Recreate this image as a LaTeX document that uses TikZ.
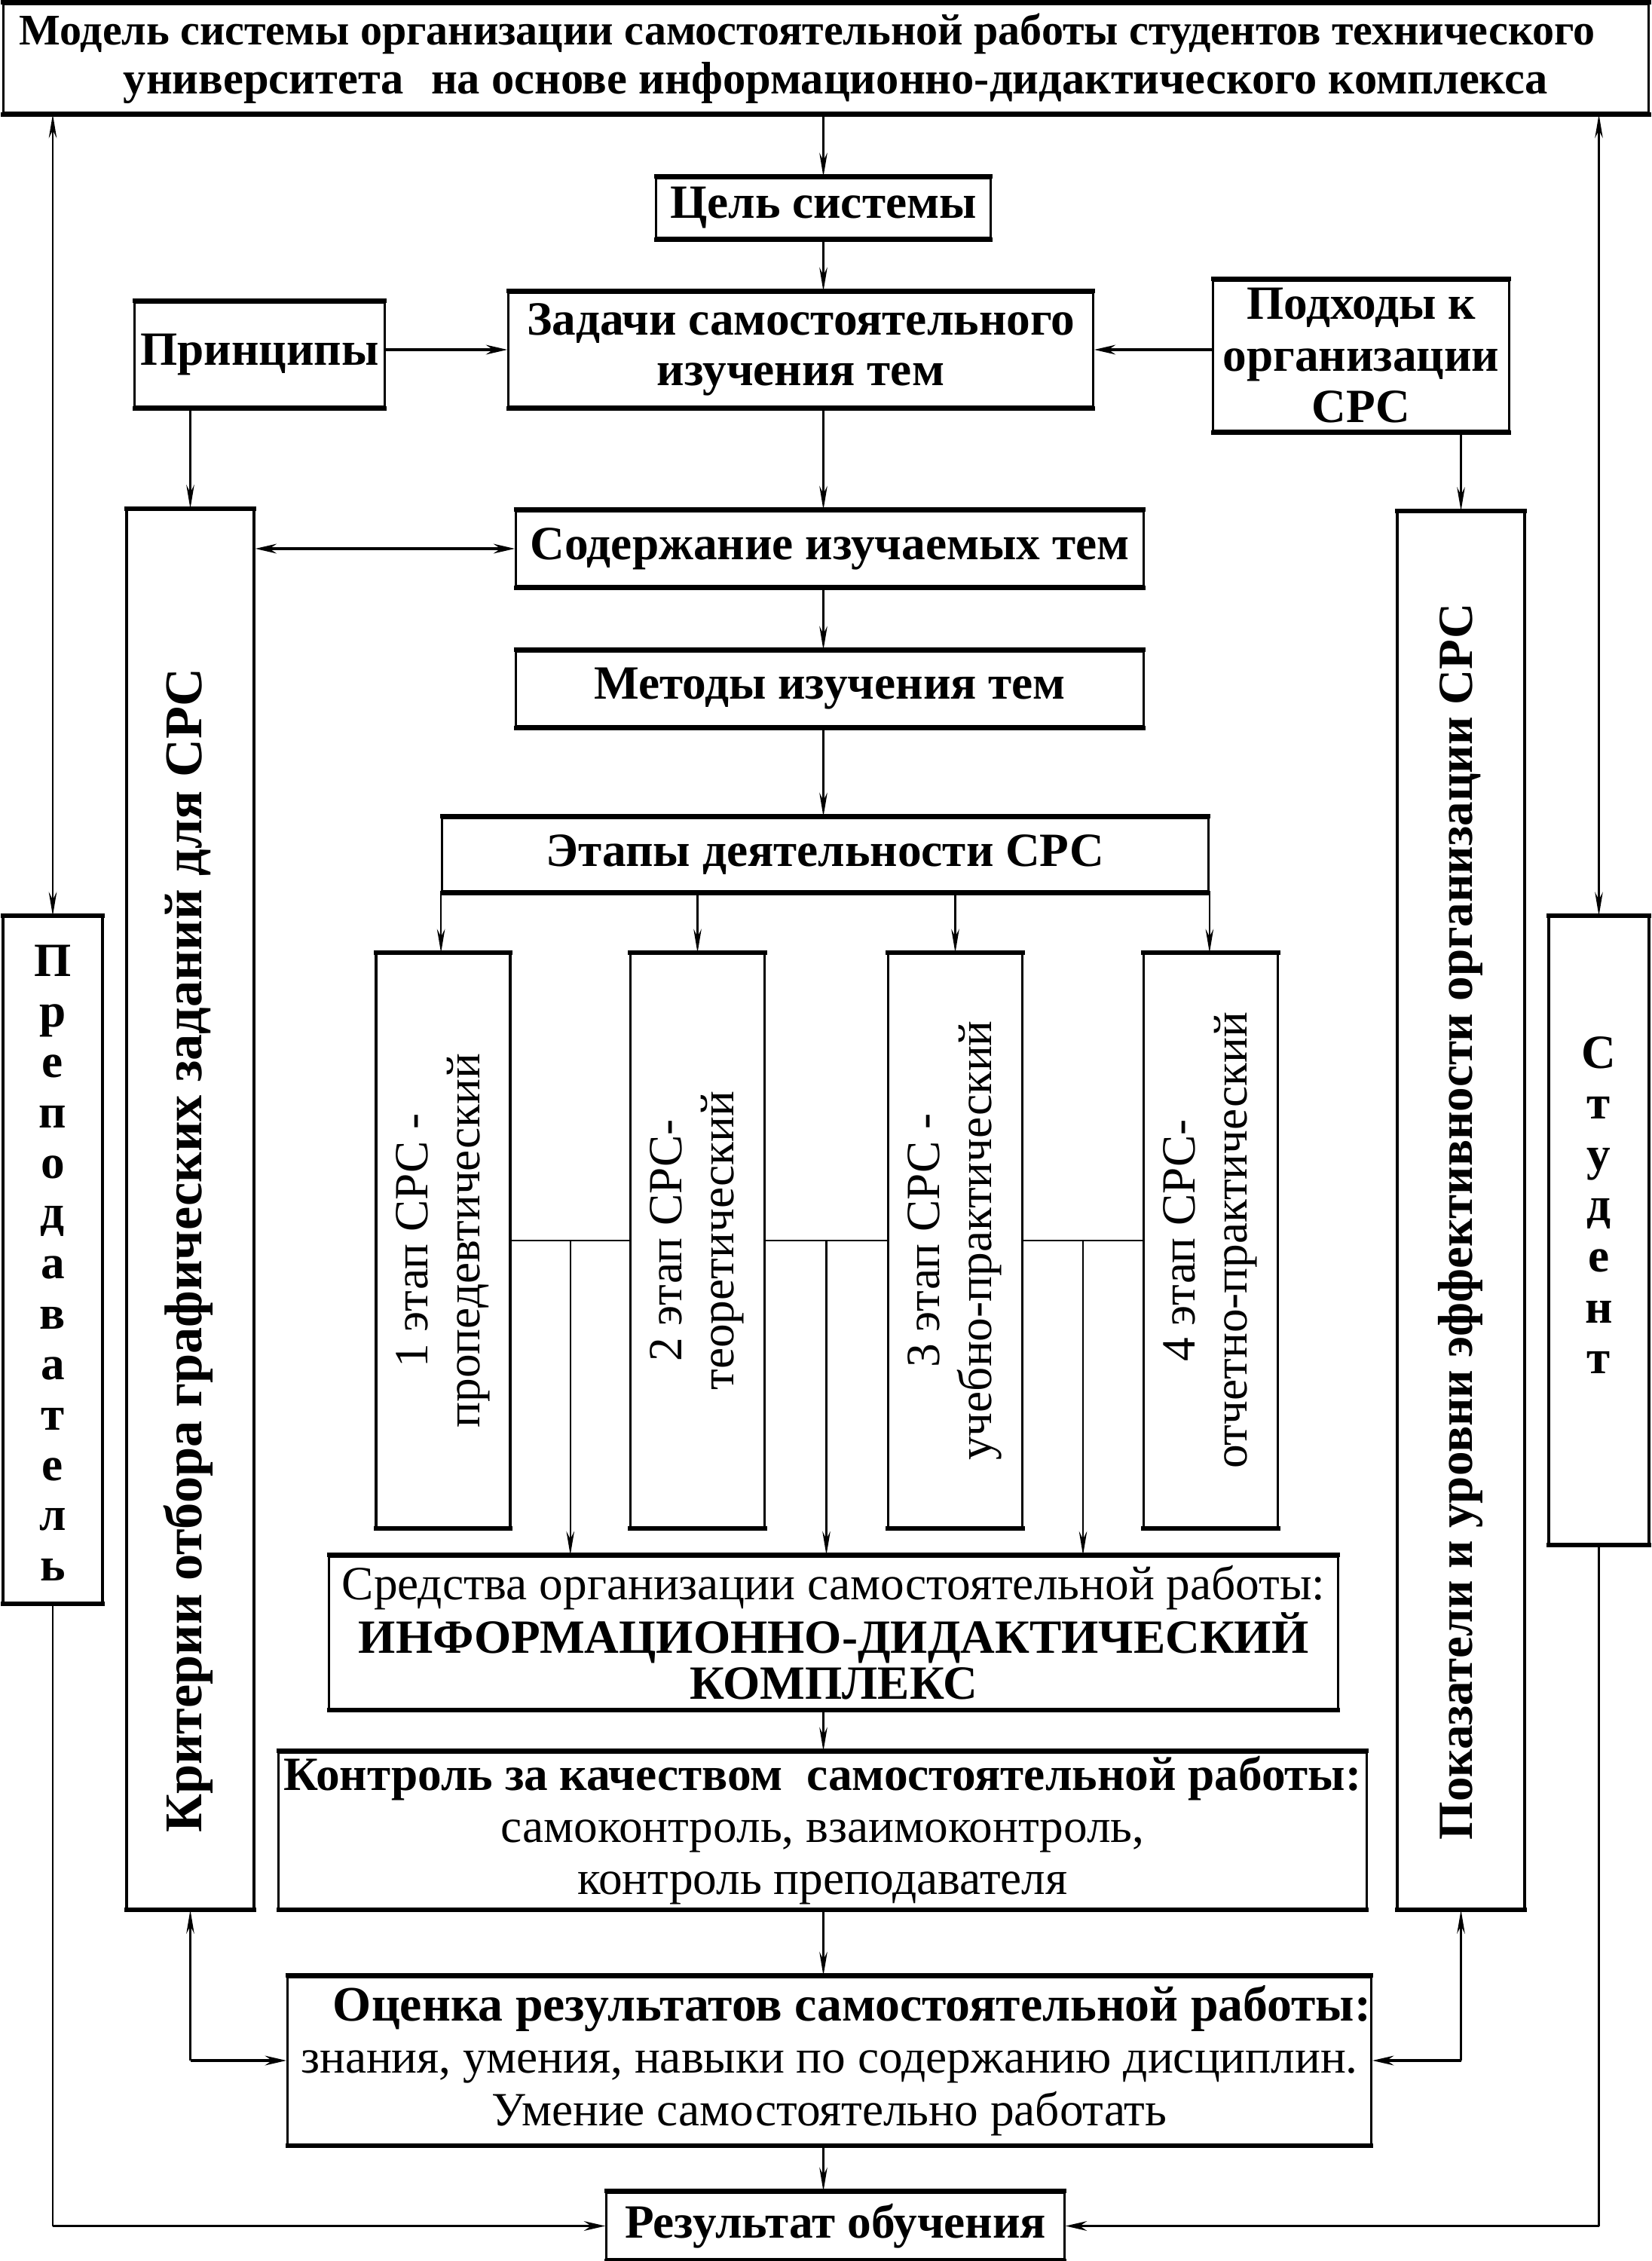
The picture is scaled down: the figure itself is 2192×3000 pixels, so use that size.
\documentclass[tikz,border=0pt]{standalone}
\usepackage{fontspec}
\setmainfont{Liberation Serif}
\usetikzlibrary{arrows.meta,calc}
\newcommand\fsz[2]{\fontsize{#1}{#2}\selectfont}
\tikzset{
  box/.style={draw, line width=0.9pt, inner sep=0pt, align=center,
    append after command={
      (\tikzlastnode.north west) edge[line width=1.7pt, shorten <=-0.4pt, shorten >=-0.4pt] (\tikzlastnode.north east)
      (\tikzlastnode.south west) edge[line width=1.7pt, shorten <=-0.4pt, shorten >=-0.4pt] (\tikzlastnode.south east)}},
  lbl/.style={inner sep=0pt, align=center},
  vline/.style={line width=0.6pt},
  hline/.style={line width=1.1pt},
  tipv/.tip={Stealth[length=9pt,width=3pt]},
  tiph/.tip={Stealth[length=8pt,width=3.6pt]},
  varr/.style={vline, -tipv},
  harr/.style={hline, -tiph},
  hbarr/.style={hline, tiph-tiph},
  vbarr/.style={vline, tipv-tipv},
  bt/.style={font=\fsz{18}{19}\bfseries},
  stg/.style={box, minimum width=1.78cm, minimum height=7.60cm, font=\fsz{18}{19.6}},
}
\begin{document}
\begin{tikzpicture}[x=0.01cm, y=-0.01cm]
\useasboundingbox (0,0) rectangle (2192,3000);
% boxes
\node[box, minimum width=21.82cm, minimum height=1.45cm, font=\fsz{16.5}{18.5}\bfseries] (title) at (1096,77.5)
  {Модель системы организации самостоятельной работы студентов технического\hspace*{0.5cm}\\
   \hspace*{0.26cm}{\fontsize{17.2}{18.5}\selectfont университета\hspace{0.6em}на основе информационно-дидактического комплекса}};
\node[box, bt, minimum width=4.43cm, minimum height=0.80cm] (cel) at (1092.5,276) {Цель системы};
\node[box, bt, minimum width=7.75cm, minimum height=1.52cm] (zad) at (1062.5,464) {Задачи самостоятельного\\изучения тем};
\node[box, bt, minimum width=3.31cm, minimum height=1.39cm] (princ) at (344.5,470.5) {Принципы};
\node[box, bt, minimum width=3.92cm, minimum height=2.00cm, font=\fsz{18}{19.5}\bfseries] (podh) at (1806,472) {Подходы к\\организации\\СРС};
\node[box, bt, minimum width=8.32cm, minimum height=1.00cm] (soder) at (1101,728) {Содержание изучаемых тем};
\node[box, bt, minimum width=8.32cm, minimum height=1.00cm] (metody) at (1101,914) {Методы изучения тем};
\node[box, bt, minimum width=10.16cm, minimum height=0.98cm] (etapy) at (1095,1134) {Этапы деятельности СРС};
% stage boxes
\node[stg] (s1) at (588,1646)
  {\rotatebox{90}{\begin{tabular}{@{}c@{}}1 этап СРС -\\пропедевтический\end{tabular}}};
\node[stg] (s2) at (925.5,1646)
  {\rotatebox{90}{\begin{tabular}{@{}c@{}}2 этап СРС-\\теоретический\end{tabular}}};
\node[stg] (s3) at (1267.5,1646)
  {\rotatebox{90}{\begin{tabular}{@{}c@{}}3 этап СРС -\\учебно-практический\end{tabular}}};
\node[stg] (s4) at (1606.5,1646)
  {\rotatebox{90}{\begin{tabular}{@{}c@{}}4 этап СРС-\\отчетно-практический\end{tabular}}};
\node[box, minimum width=13.38cm, minimum height=2.02cm, font=\fsz{18}{17.2}] (sred) at (1106,2166)
  {Средства организации самостоятельной работы:\\\textbf{ИНФОРМАЦИОННО-ДИДАКТИЧЕСКИЙ}\\\textbf{КОМПЛЕКС}};
\node[box, minimum width=14.43cm, minimum height=2.07cm, font=\fsz{18}{19.5}] (kontr) at (1091.5,2428.5)
  {\textbf{Контроль за качеством \ самостоятельной работы:}\\самоконтроль, взаимоконтроль,\\контроль преподавателя};
\node[box, minimum width=14.37cm, minimum height=2.22cm, font=\fsz{18}{19.8}] (ocen) at (1100.5,2734)
  {\hspace*{0.6cm}\textbf{\fontsize{18.7}{19.8}\selectfont Оценка результатов самостоятельной работы:}\\знания, умения, навыки по содержанию дисциплин.\\Умение самостоятельно работать};
\node[box, bt, minimum width=6.07cm, minimum height=0.89cm] (res) at (1108.5,2953.5) {Результат обучения};
% side boxes
\node[box, minimum width=1.69cm, minimum height=18.55cm] (krit) at (252.5,1604.5) {};
\node[lbl, rotate=90, font=\fsz{20}{21}\bfseries] (kritt) at (250,1659) {Критерии отбора графических заданий для СРС};
\node[box, minimum width=1.69cm, minimum height=18.52cm] (pokaz) at (1938.5,1606) {};
\node[lbl, rotate=90, font=\fsz{18.5}{20}\bfseries] (pokazt) at (1938,1621) {Показатели и уровни эффективности организации СРС};
\node[box, minimum width=1.32cm, minimum height=9.09cm] (prep) at (70,1671.5) {};
\node[lbl, font=\fsz{18}{19}\bfseries] (prept) at (70,1676) {П\\р\\е\\п\\о\\д\\а\\в\\а\\т\\е\\л\\ь};
\node[box, minimum width=1.33cm, minimum height=8.31cm] (stud) at (2121.5,1632.5) {};
\node[lbl, font=\fsz{18}{19.2}\bfseries] (studt) at (2121.5,1599) {С\\т\\у\\д\\е\\н\\т};
% main vertical chain
\draw[varr] (cel.north |- title.south) -- (cel.north);
\draw[varr] (cel.south) -- (cel.south |- zad.north);
\draw[varr] (cel.south |- zad.south) -- (cel.south |- soder.north);
\draw[varr] (cel.south |- soder.south) -- (cel.south |- metody.north);
\draw[varr] (cel.south |- metody.south) -- (cel.south |- etapy.north);
\draw[harr] (zad.west -| princ.east) -- (zad.west);
\draw[harr] (zad.east -| podh.west) -- (zad.east);
\draw[varr] (krit.north |- princ.south) -- (krit.north);
\draw[varr] (pokaz.north |- podh.south) -- (pokaz.north);
\draw[hbarr] (soder.west -| krit.east) -- (soder.west);
% stages
\draw[varr] (etapy.south west) -- (etapy.south west |- s1.north);
\draw[varr] (s2.north |- etapy.south) -- (s2.north);
\draw[varr] (s3.north |- etapy.south) -- (s3.north);
\draw[varr] (etapy.south east) -- (etapy.south east |- s4.north);
\draw[vline] (s1.east) -- (s2.west);
\draw[vline] (s2.east) -- (s3.west);
\draw[vline] (s3.east) -- (s4.west);
\coordinate (m12) at ($(s1.east)!0.5!(s2.west)$);
\coordinate (m23) at ($(s2.east)!0.5!(s3.west)$);
\coordinate (m34) at ($(s3.east)!0.5!(s4.west)$);
\draw[varr] (m12) -- (m12 |- sred.north);
\draw[varr] (m23) -- (m23 |- sred.north);
\draw[varr] (m34) -- (m34 |- sred.north);
\draw[varr] (cel.south |- sred.south) -- (cel.south |- kontr.north);
\draw[varr] (cel.south |- kontr.south) -- (cel.south |- ocen.north);
\draw[varr] (cel.south |- ocen.south) -- (cel.south |- res.north);
% side feedback
\coordinate (kc) at (krit.south |- ocen.west);
\draw[vline, tipv-] (krit.south) -- (kc);
\draw[harr] (kc) -- (ocen.west);
\coordinate (pc) at (pokaz.south |- ocen.east);
\draw[vline, tipv-] (pokaz.south) -- (pc);
\draw[harr] (pc) -- (ocen.east);
% outer loops
\draw[vbarr] (prep.north |- title.south) -- (prep.north);
\draw[vbarr] (stud.north |- title.south) -- (stud.north);
\coordinate (prc) at (prep.south |- res.west);
\draw[vline] (prep.south) -- (prc);
\draw[harr] (prc) -- (res.west);
\coordinate (stc) at (stud.south |- res.east);
\draw[vline] (stud.south) -- (stc);
\draw[harr] (stc) -- (res.east);
\end{tikzpicture}
\end{document}
